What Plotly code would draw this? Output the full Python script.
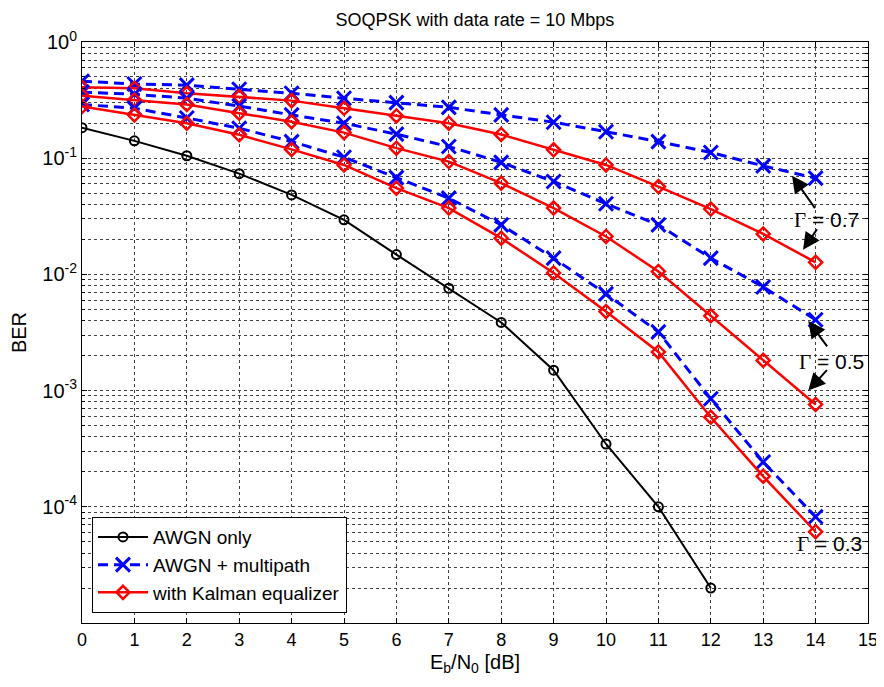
import plotly.graph_objects as go

# ---- data ----
ebn0 = list(range(0, 15))
ebn0_awgn = list(range(0, 13))
ber_awgn = [0.183, 0.141, 0.105, 0.0736, 0.0483, 0.0295, 0.0148, 0.0076,
            0.00386, 0.0015, 3.47e-4, 1.0e-4, 2.0e-5]

ber_mp_07 = [0.46, 0.435, 0.425, 0.392, 0.362, 0.328, 0.301, 0.274, 0.236,
             0.204, 0.169, 0.139, 0.112, 0.0859, 0.0673]
ber_kf_07 = [0.408, 0.40, 0.362, 0.339, 0.313, 0.269, 0.231, 0.2, 0.16,
             0.118, 0.0875, 0.057, 0.0365, 0.0223, 0.0127]
ber_mp_05 = [0.37, 0.355, 0.328, 0.281, 0.236, 0.2, 0.161, 0.126, 0.092,
             0.063, 0.0405, 0.0267, 0.0138, 0.0078, 0.00407]
ber_kf_05 = [0.345, 0.317, 0.29, 0.244, 0.206, 0.166, 0.122, 0.0935, 0.061,
             0.0372, 0.0212, 0.0106, 0.0044, 0.00182, 7.6e-4]
ber_mp_03 = [0.29, 0.269, 0.222, 0.181, 0.139, 0.102, 0.068, 0.0453, 0.0267,
             0.0138, 0.0068, 0.0032, 8.5e-4, 2.43e-4, 8.2e-5]
ber_kf_03 = [0.278, 0.236, 0.2, 0.159, 0.119, 0.0875, 0.0552, 0.0372, 0.0205,
             0.0103, 0.0048, 0.00215, 5.9e-4, 1.83e-4, 6.1e-5]

x_ticks = list(range(0, 16))
y_tickvals = [1e-4, 1e-3, 1e-2, 1e-1, 1]
y_ticktext = ["10<sup>-4</sup>", "10<sup>-3</sup>", "10<sup>-2</sup>",
              "10<sup>-1</sup>", "10<sup>0</sup>"]

gamma_values = ["0.7", "0.5", "0.3"]

# ---- figure ----
fig = go.Figure()

mp_style = dict(mode="lines+markers",
                line=dict(color="#0000ff", width=3, dash="10px,6px"),
                marker=dict(symbol="x-thin-open", size=14,
                            line=dict(color="#0000ff", width=3)))
kf_style = dict(mode="lines+markers",
                line=dict(color="#ff0000", width=2.5),
                marker=dict(symbol="diamond-open", size=10, color="#ff0000",
                            line=dict(color="#ff0000", width=2.5)))

fig.add_trace(go.Scatter(x=ebn0_awgn, y=ber_awgn, name="AWGN only",
                         mode="lines+markers",
                         line=dict(color="black", width=2),
                         marker=dict(symbol="circle-open", size=9,
                                     line=dict(color="black", width=2)),
                         legendgroup="a", showlegend=True))

mp_list = [ber_mp_07, ber_mp_05, ber_mp_03]
kf_list = [ber_kf_07, ber_kf_05, ber_kf_03]
for i, (mp, kf) in enumerate(zip(mp_list, kf_list)):
    fig.add_trace(go.Scatter(x=ebn0, y=mp, name="AWGN + multipath",
                             legendgroup="b", showlegend=(i == 0), **mp_style))
    fig.add_trace(go.Scatter(x=ebn0, y=kf, name="with Kalman equalizer",
                             legendgroup="c", showlegend=(i == 0), **kf_style))

grid_col = "#404040"
fig.update_xaxes(range=[0, 15], tickvals=x_ticks, ticks="inside", ticklen=5,
                 tickcolor="black", showgrid=True, gridcolor=grid_col,
                 griddash="3px,3px", gridwidth=1, zeroline=False,
                 showline=True, linecolor="black", linewidth=1, mirror="ticks",
                 automargin=False,
                 tickfont=dict(family="Arial", size=18, color="black"),
                 title=dict(text="E<sub>b</sub>/N<sub>0</sub> [dB]",
                            font=dict(family="Arial", size=20, color="black"),
                            standoff=6))
fig.update_yaxes(type="log", range=[-5, 0], tickvals=y_tickvals,
                 ticktext=y_ticktext, ticks="inside", ticklen=5,
                 tickcolor="black", showgrid=True, gridcolor=grid_col,
                 griddash="3px,3px", gridwidth=1, zeroline=False,
                 showline=True, linecolor="black", linewidth=1, mirror="ticks",
                 automargin=False,
                 minor=dict(dtick="D1", showgrid=True, gridcolor=grid_col,
                            griddash="3px,3px", ticks="inside", ticklen=3,
                            tickcolor="black"),
                 tickfont=dict(family="Arial", size=20, color="black"),
                 title=dict(text="BER",
                            font=dict(family="Arial", size=20, color="black"),
                            standoff=12))

ann_font = dict(family="Arial", size=21, color="black")
def gamma_text(v):
    return ('<span style="font-family:Liberation Serif">\u0393</span> = ' + v)

annotations = [
    dict(x=14.2, y=-1.53, text=gamma_text(gamma_values[0]), showarrow=False, font=ann_font),
    dict(x=14.31, y=-2.751, text=gamma_text(gamma_values[1]), showarrow=False, font=ann_font),
    dict(x=14.27, y=-4.316, text=gamma_text(gamma_values[2]), showarrow=False, font=ann_font),
]
arrow_common = dict(text="", showarrow=True, arrowhead=2, arrowsize=1.7,
                    arrowwidth=2, arrowcolor="black", standoff=0)
for (xa, ya, axp, ayp) in [(13.55, -1.15, 24, 34), (13.76, -1.788, 15, -22),
                           (13.86, -2.40, 20, 27), (13.86, -3.00, 20, -22)]:
    annotations.append(dict(x=xa, y=ya, ax=axp, ay=ayp, **arrow_common))

fig.update_layout(
    width=876, height=679,
    margin=dict(l=74, r=16, t=34, b=64),
    plot_bgcolor="white", paper_bgcolor="white",
    title=dict(text="SOQPSK with data rate = 10 Mbps", x=0.533, xanchor="center",
               y=0.983, yanchor="middle", pad=dict(t=0, b=0),
               font=dict(family="Arial", size=18, color="black")),
    legend=dict(x=0.0127, y=0.017, xanchor="left", yanchor="bottom",
                bgcolor="white", bordercolor="black", borderwidth=1,
                font=dict(family="Arial", size=19, color="black"),
                tracegroupgap=0, itemwidth=50),
    annotations=annotations,
    showlegend=True,
)

fig.write_html("out.html")
